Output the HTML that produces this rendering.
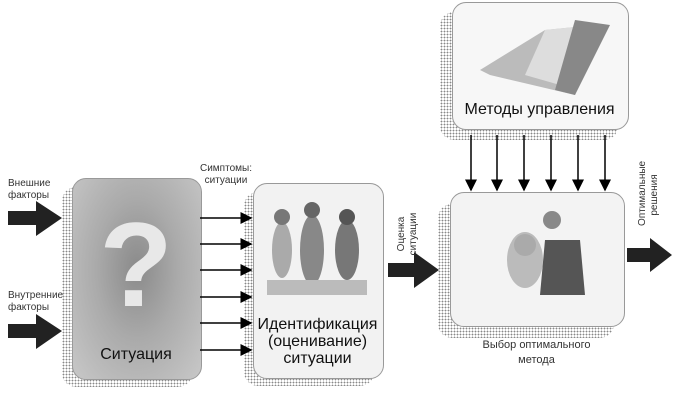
<!DOCTYPE html>
<html><head><meta charset="utf-8"><style>
body{margin:0;width:673px;height:408px;background:#fff;position:relative;overflow:hidden;font-family:"Liberation Sans",sans-serif;}
.a{position:absolute}
.sh{position:absolute;background-image:radial-gradient(#888 35%,transparent 45%);background-size:3px 3px;border-radius:14px}
.box{position:absolute;border:1px solid #999;border-radius:14px}
.t{position:absolute;text-align:center;color:#111}
.s{font-size:10px;color:#333;line-height:12px}
</style></head><body>
<div class="sh" style="left:62px;top:187px;width:130px;height:200px"></div>
<div class="sh" style="left:244px;top:192px;width:130px;height:194px"></div>
<div class="sh" style="left:440px;top:12px;width:178px;height:128px"></div>
<div class="sh" style="left:438px;top:204px;width:176px;height:134px"></div>

<div class="box" style="left:72px;top:178px;width:128px;height:200px;background:radial-gradient(ellipse at 50% 45%,#8a8a8a 0%,#aaa 45%,#c8c8c8 100%)"></div>
<div class="t" style="left:72px;top:195px;width:128px;font-size:120px;color:#e8e8e8;font-weight:bold;line-height:140px">?</div>
<div class="t" style="left:72px;top:346px;width:128px;font-size:16px">Ситуация</div>

<div class="box" style="left:253px;top:183px;width:129px;height:194px;background:#f2f2f2"></div>
<svg class="a" style="left:262px;top:195px" width="115" height="110">
<ellipse cx="20" cy="55" rx="10" ry="28" fill="#aaa"/><circle cx="20" cy="22" r="8" fill="#777"/>
<ellipse cx="50" cy="55" rx="12" ry="35" fill="#888"/><circle cx="50" cy="15" r="8" fill="#666"/>
<ellipse cx="85" cy="55" rx="12" ry="30" fill="#777"/><circle cx="85" cy="22" r="8" fill="#555"/>
<rect x="5" y="85" width="100" height="15" fill="#bbb"/>
</svg>
<div class="t" style="left:253px;top:316px;width:129px;font-size:16px;line-height:17px">Идентификация (оценивание) ситуации</div>

<div class="box" style="left:452px;top:2px;width:175px;height:126px;background:#f7f7f7"></div>
<svg class="a" style="left:465px;top:10px" width="150" height="85">
<polygon points="15,60 80,20 130,15 130,30 110,85 25,65" fill="#bbb"/>
<polygon points="80,20 130,15 95,75 60,65" fill="#ddd"/>
<polygon points="110,10 145,15 110,85 90,80" fill="#888"/>
</svg>
<div class="t" style="left:452px;top:101px;width:175px;font-size:16px">Методы управления</div>

<div class="box" style="left:450px;top:192px;width:173px;height:133px;background:#f3f3f3"></div>
<svg class="a" style="left:490px;top:200px" width="110" height="95">
<ellipse cx="35" cy="60" rx="18" ry="28" fill="#bbb"/><circle cx="35" cy="45" r="11" fill="#aaa"/>
<path d="M55,40 L90,40 L95,95 L50,95 Z" fill="#555"/><circle cx="62" cy="20" r="9" fill="#888"/>
</svg>
<div class="t s" style="left:450px;top:338px;width:173px;font-size:11px;line-height:15px">Выбор оптимального<br>метода</div>

<svg class="a" style="left:0;top:0" width="673" height="408">
<defs><marker id="m" markerWidth="8" markerHeight="8" refX="7" refY="4" orient="auto"><path d="M0,0 L8,4 L0,8 Z" fill="#000"/></marker></defs>
<g stroke="#000" stroke-width="1.5" marker-end="url(#m)">
<line x1="200" y1="218" x2="251" y2="218"/><line x1="200" y1="244" x2="251" y2="244"/>
<line x1="200" y1="270" x2="251" y2="270"/><line x1="200" y1="297" x2="251" y2="297"/>
<line x1="200" y1="323" x2="251" y2="323"/><line x1="200" y1="350" x2="251" y2="350"/>
<line x1="471" y1="135" x2="471" y2="190"/><line x1="497" y1="135" x2="497" y2="190"/>
<line x1="524" y1="135" x2="524" y2="190"/><line x1="551" y1="135" x2="551" y2="190"/>
<line x1="578" y1="135" x2="578" y2="190"/><line x1="605" y1="135" x2="605" y2="190"/>
</g>
<g fill="#222">
<polygon points="8,211 36,211 36,201 62,218 36,236 36,225 8,225"/>
<polygon points="8,324 36,324 36,314 62,331 36,349 36,338 8,338"/>
<polygon points="388,263 414,263 414,252 439,270 414,288 414,277 388,277"/>
<polygon points="627,248 650,248 650,238 672,255 650,272 650,262 627,262"/>
</g>
</svg>
<div class="a s" style="left:8px;top:178px">Внешние<br>факторы</div>
<div class="a s" style="left:8px;top:290px">Внутренние<br>факторы</div>
<div class="a s" style="left:200px;top:163px;text-align:center">Симптомы:<br>ситуации</div>
<div class="a s" style="left:380px;top:222px;width:56px;transform:rotate(-90deg);text-align:center">Оценка<br>ситуации</div>
<div class="a s" style="left:618px;top:183px;width:62px;transform:rotate(-90deg);text-align:center">Оптимальные<br>решения</div>
</body></html>
